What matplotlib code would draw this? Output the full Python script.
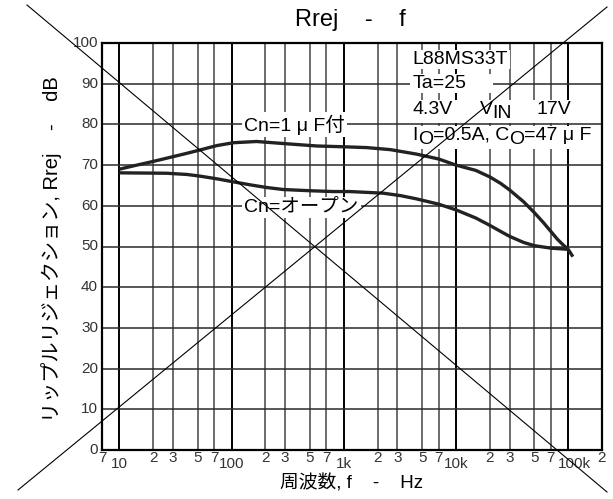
import numpy as np
import matplotlib
matplotlib.use("Agg")
import matplotlib.pyplot as plt
from matplotlib.lines import Line2D
from matplotlib.patches import Rectangle

plt.rcParams['font.family'] = ['Liberation Sans', 'Noto Sans CJK JP', 'DejaVu Sans']

# ---------------- data ----------------
freq_cn1 = [10, 13.3, 20, 26.4, 40, 52, 74, 104, 167, 289, 572, 1000, 1600,
            2600, 4450, 7000, 10000, 15000, 20000, 25000, 30000, 40000, 50000,
            60000, 70000, 80000, 90000, 100000, 110000]
rrej_cn1 = [69.0, 69.8, 70.9, 71.7, 72.9, 73.7, 74.8, 75.5, 75.8, 75.3, 74.7,
            74.5, 74.3, 73.8, 72.7, 71.5, 70.0, 68.7, 67.1, 65.5, 63.9, 61.0,
            58.3, 55.9, 53.7, 51.8, 50.4, 49.3, 47.5]

freq_open = [10, 26.4, 40, 52, 75, 103, 150, 205, 289, 500, 803, 1135, 2249,
             3200, 4450, 7000, 10000, 15000, 20000, 25000, 30000, 40000, 50000,
             70000, 100000]
rrej_open = [68.1, 68.0, 67.7, 67.3, 66.6, 65.9, 65.1, 64.5, 64.0, 63.7, 63.5,
             63.5, 63.1, 62.5, 61.7, 60.4, 59.0, 57.0, 55.2, 53.7, 52.5, 51.0,
             50.2, 49.6, 49.3]

xtick_pos = [7, 10, 20, 30, 50, 70, 100, 200, 300, 500, 700, 1000, 2000, 3000,
             5000, 7000, 10000, 20000, 30000, 50000, 70000, 100000, 200000]
xtick_lab = ['7', '10', '2', '3', '5', '7', '100', '2', '3', '5', '7', '1k',
             '2', '3', '5', '7', '10k', '2', '3', '5', '7', '100k', '2']
decade_labels = ['10', '100', '1k', '10k', '100k']
ytick_pos = [0, 10, 20, 30, 40, 50, 60, 70, 80, 90, 100]

title = 'Rrej    -    f'
xlabel = '周波数, f    -    Hz'
ylabel = 'リップルリジェクション, Rrej    -    dB'

# ---------------- figure ----------------
W, H = 613, 499
fig = plt.figure(figsize=(W / 100, H / 100), dpi=100)
ax = fig.add_axes([102 / W, 1 - 450 / H, 500 / W, 407 / H])
ax.set_xscale('log')
ax.set_xlim(7, 200000)
ax.set_ylim(0, 100)
ax.set_xticks([])
ax.set_xticks([], minor=True)
ax.set_yticks([])
for s in ax.spines.values():
    s.set_linewidth(1.6)
    s.set_color('black')
    s.set_zorder(6)

# grid
for xv, lab in zip(xtick_pos[1:-1], xtick_lab[1:-1]):
    if lab in decade_labels:
        ax.axvline(xv, color='black', lw=1.4, zorder=1)
    else:
        ax.axvline(xv, color='#444444', lw=1.1, zorder=1)
for yv in ytick_pos[1:-1]:
    ax.axhline(yv, color='#2a2a2a', lw=1.1, zorder=1)

# tick labels
tick_col = '#333333'
for xv, lab in zip(xtick_pos, xtick_lab):
    dy = -14 if lab in decade_labels else -8.5
    dx = 6 if lab == '100k' else 0
    ax.annotate(lab, xy=(xv, 0), xycoords=('data', 'axes fraction'),
                xytext=(dx, dy), textcoords='offset pixels',
                ha='center', va='center', fontsize=11, color=tick_col,
                annotation_clip=False)
for yv in ytick_pos:
    ax.annotate(str(yv), xy=(0, yv), xycoords=('axes fraction', 'data'),
                xytext=(-4, 0), textcoords='offset pixels',
                ha='right', va='center', fontsize=11, color=tick_col,
                annotation_clip=False)

# curves
ax.plot(freq_cn1, rrej_cn1, color='#222222', lw=2.4, zorder=4,
        solid_capstyle='butt', solid_joinstyle='round')
ax.plot(freq_open, rrej_open, color='#222222', lw=2.4, zorder=4,
        solid_capstyle='butt', solid_joinstyle='round')

# curve labels
wbox = dict(boxstyle='square,pad=0.12', fc='white', ec='none')
ax.text(130, 80, 'Cn=1 μ F付', fontsize=14, ha='left', va='center',
        zorder=3, bbox=wbox)
ax.text(130, 59.6, 'Cn=オープン', fontsize=14, ha='left', va='center',
        zorder=3, bbox=wbox)

# info block with subscripts
renderer = fig.canvas.get_renderer()


def rich_line(xd, yd, pieces, fs=14, min_right=None):
    dx = 0
    bbs = []
    for item in pieces:
        txt, dy = item[0], item[1]
        if len(item) > 2:
            dx = item[2]
        t = ax.annotate(txt, xy=(xd, yd), xycoords='data',
                        xytext=(dx, dy), textcoords='offset pixels',
                        ha='left', va='baseline', fontsize=fs, zorder=3.5,
                        annotation_clip=False)
        bb = t.get_window_extent(renderer)
        bbs.append(bb)
        dx += bb.width
    x0 = min(b.x0 for b in bbs) - 3
    x1 = max(b.x1 for b in bbs) + 2
    if min_right is not None:
        x1 = max(x1, min_right)
    y0 = min(b.y0 for b in bbs) - 1
    y1 = max(b.y1 for b in bbs) + 1
    inv = ax.transAxes.inverted()
    (ax0, ay0), (ax1, ay1) = inv.transform([(x0, y0), (x1, y1)])
    ax.add_patch(Rectangle((ax0, ay0), ax1 - ax0, ay1 - ay0,
                           transform=ax.transAxes, fc='white', ec='none',
                           zorder=3.2))


info_x = 4100
rich_line(info_x, 94.8, [('L88MS33T', 0)])
rich_line(info_x, 89.0, [('Ta=25', 0)], min_right=493)
rich_line(info_x, 82.6, [('4.3V', 0), ('V', 0, 67), ('IN', -4), ('17V', 0, 124)])
rich_line(info_x, 76.2, [('I', 0), ('O', -4), ('=0.5A, C', 0), ('O', -4),
                         ('=47 μ F', 0)])

# titles
fig.text(350 / W, 1 - 20 / H, title, fontsize=17, ha='center', va='center')
fig.text(352 / W, 1 - 483 / H, xlabel, fontsize=13.5, ha='center', va='center')
fig.text(52 / W, 1 - 249 / H, ylabel, fontsize=14.5, ha='center', va='center',
         rotation=90)

# crossing diagonal lines over the whole figure
fig.add_artist(Line2D([27 / W, 607 / W], [1 - 5 / H, 1 - 492 / H],
                      color='black', lw=0.8, zorder=10))
fig.add_artist(Line2D([18 / W, 607 / W], [1 - 490 / H, 1 - 7 / H],
                      color='black', lw=0.8, zorder=10))

fig.savefig('out.png', dpi=100, facecolor='white')
